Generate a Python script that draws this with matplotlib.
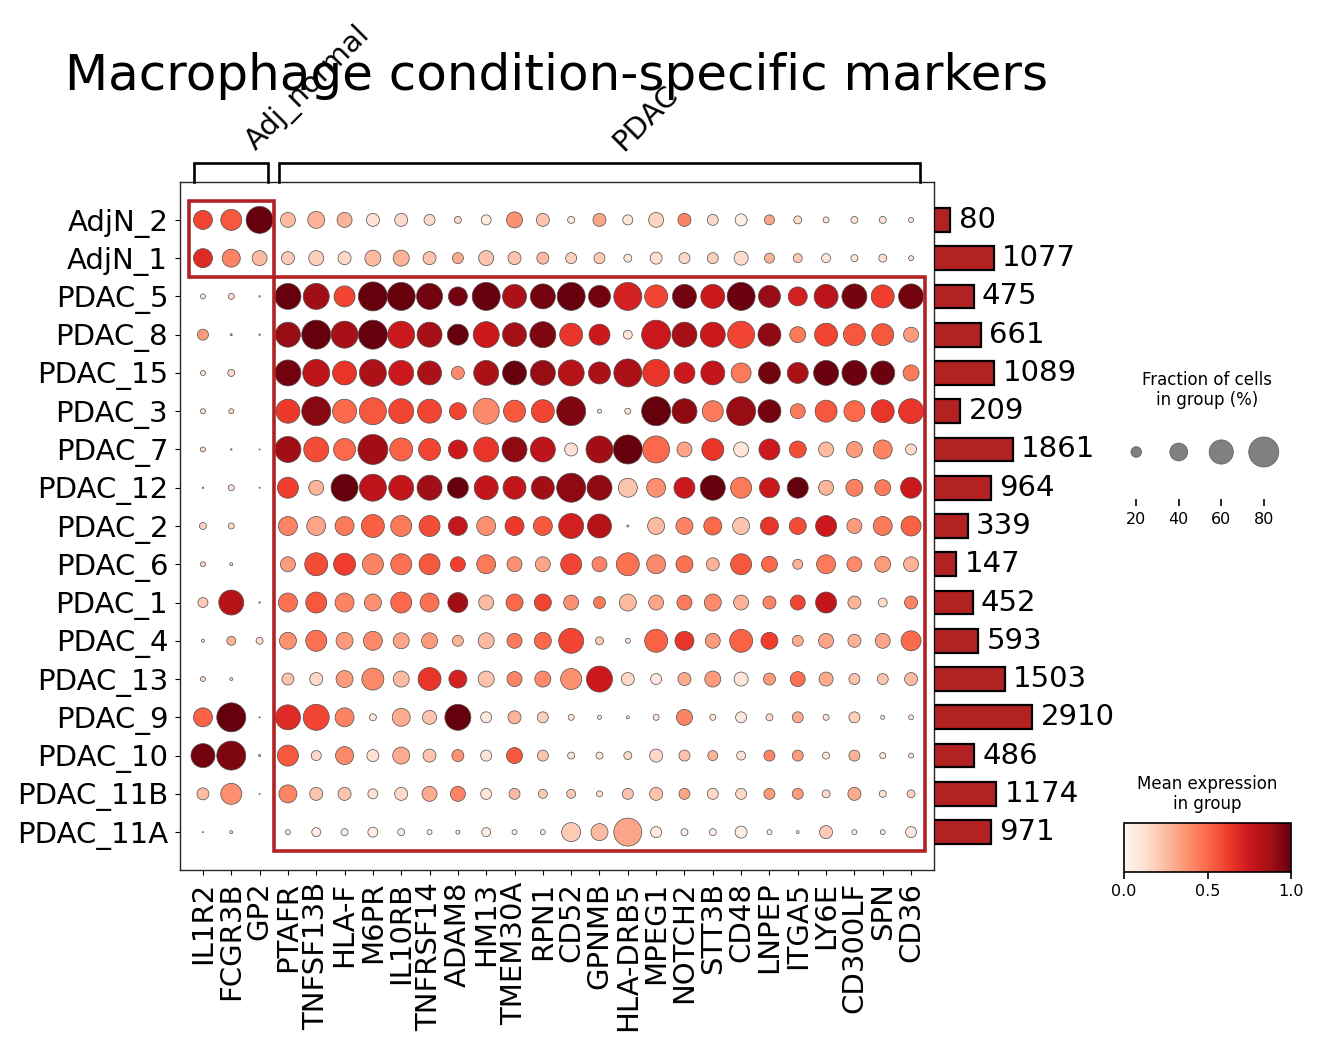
import numpy as np
import matplotlib
matplotlib.use("Agg")
import matplotlib.pyplot as plt
from matplotlib.patches import Rectangle
from matplotlib.cm import ScalarMappable
from matplotlib.colors import Normalize

# ---------------- data ----------------
groups = ["AdjN_2", "AdjN_1", "PDAC_5", "PDAC_8", "PDAC_15", "PDAC_3", "PDAC_7",
          "PDAC_12", "PDAC_2", "PDAC_6", "PDAC_1", "PDAC_4", "PDAC_13", "PDAC_9",
          "PDAC_10", "PDAC_11B", "PDAC_11A"]
genes = ["IL1R2", "FCGR3B", "GP2", "PTAFR", "TNFSF13B", "HLA-F", "M6PR", "IL10RB",
         "TNFRSF14", "ADAM8", "HM13", "TMEM30A", "RPN1", "CD52", "GPNMB", "HLA-DRB5",
         "MPEG1", "NOTCH2", "STT3B", "CD48", "LNPEP", "ITGA5", "LY6E", "CD300LF",
         "SPN", "CD36"]
gene_group_labels = ["Adj_normal", "PDAC"]
gene_group_sizes = [3, 23]
cell_counts = [80, 1077, 475, 661, 1089, 209, 1861, 964, 339, 147, 452, 593,
               1503, 2910, 486, 1174, 971]
# highlighted blocks: (first row, last row, gene group index)
highlight_blocks = [(0, 1, 0), (2, 16, 1)]

# fraction of cells expressing (%), one row per group
frac_pct = [
    [43.5, 49.7, 69.5, 31.7, 37.5, 31.7, 26.3, 26.3, 21, 11.5, 18.5, 34.6, 26.3, 11.5, 26.3, 18.5, 31.7, 26.3, 21, 23.6, 18.5, 13.7, 9.4, 11.5, 11.5, 7.3],  # AdjN_2
    [43.5, 40.5, 31.7, 26.3, 31.7, 26.3, 34.6, 34.6, 26.3, 21, 31.7, 26.3, 23.6, 21, 21, 13.7, 23.6, 21, 21, 29, 18.5, 16, 16, 11.5, 13.7, 7.3],  # AdjN_1
    [7.3, 9.4, 1.5, 66.1, 66.1, 49.7, 76.5, 73, 66.1, 43.5, 73, 59.4, 62.7, 73, 52.9, 73, 56.1, 59.4, 59.4, 73, 52.9, 43.5, 59.4, 62.7, 56.1, 62.7],  # PDAC_5
    [21, 2.2, 1.5, 62.7, 76.5, 69.5, 76.5, 69.5, 62.7, 49.7, 66.1, 59.4, 66.1, 56.1, 49.7, 16, 76.5, 62.7, 62.7, 69.5, 56.1, 34.6, 56.1, 52.9, 52.9, 31.7],  # PDAC_8
    [7.3, 11.5, 0, 66.1, 69.5, 59.4, 69.5, 62.7, 59.4, 26.3, 62.7, 59.4, 62.7, 66.1, 52.9, 73, 69.5, 49.7, 59.4, 46.6, 52.9, 49.7, 62.7, 62.7, 59.4, 34.6],  # PDAC_15
    [7.3, 7.3, 0, 59.4, 76.5, 59.4, 69.5, 62.7, 59.4, 37.5, 66.1, 52.9, 56.1, 76.5, 5.5, 9.4, 76.5, 62.7, 49.7, 76.5, 56.1, 31.7, 52.9, 49.7, 56.1, 62.7],  # PDAC_3
    [7.3, 1.5, 1, 66.1, 62.7, 52.9, 80, 56.1, 52.9, 43.5, 62.7, 62.7, 62.7, 26.3, 69.5, 76.5, 69.5, 31.7, 52.9, 31.7, 49.7, 37.5, 31.7, 34.6, 43.5, 21],  # PDAC_7
    [1.5, 9.4, 1, 49.7, 31.7, 69.5, 69.5, 62.7, 62.7, 49.7, 59.4, 56.1, 56.1, 76.5, 62.7, 43.5, 43.5, 49.7, 62.7, 49.7, 46.6, 49.7, 31.7, 37.5, 34.6, 49.7],  # PDAC_12
    [11.5, 9.4, 0, 43.5, 43.5, 43.5, 56.1, 49.7, 49.7, 43.5, 43.5, 43.5, 43.5, 62.7, 59.4, 2.2, 37.5, 37.5, 40.5, 37.5, 40.5, 37.5, 49.7, 31.7, 43.5, 46.6],  # PDAC_2
    [7.3, 3.7, 0, 31.7, 56.1, 52.9, 49.7, 49.7, 49.7, 31.7, 43.5, 31.7, 31.7, 49.7, 31.7, 56.1, 43.5, 37.5, 26.3, 49.7, 34.6, 18.5, 43.5, 31.7, 34.6, 31.7],  # PDAC_6
    [18.5, 62.7, 1.5, 43.5, 49.7, 43.5, 37.5, 49.7, 43.5, 46.6, 31.7, 37.5, 37.5, 31.7, 23.6, 37.5, 31.7, 31.7, 37.5, 31.7, 26.3, 31.7, 49.7, 26.3, 16, 26.3],  # PDAC_1
    [3.7, 16, 11.5, 37.5, 49.7, 37.5, 43.5, 34.6, 34.6, 21, 34.6, 31.7, 37.5, 62.7, 13.7, 7.3, 56.1, 43.5, 31.7, 56.1, 37.5, 21, 31.7, 26.3, 31.7, 46.6],  # PDAC_4
    [7.3, 3.7, 0, 23.6, 26.3, 37.5, 52.9, 34.6, 56.1, 40.5, 34.6, 31.7, 34.6, 49.7, 66.1, 26.3, 21, 26.3, 34.6, 29, 23.6, 31.7, 29, 21, 21, 26.3],  # PDAC_13
    [43.5, 76.5, 1, 62.7, 66.1, 43.5, 11.5, 40.5, 29, 66.1, 21, 26.3, 21, 9.4, 5.5, 3.7, 9.4, 34.6, 9.4, 21, 11.5, 21, 9.4, 21, 5.5, 7.3],  # PDAC_9
    [59.4, 76.5, 2.2, 49.7, 18.5, 40.5, 23.6, 37.5, 26.3, 23.6, 21, 34.6, 21, 11.5, 11.5, 13.7, 26.3, 21, 18.5, 16, 21, 21, 11.5, 21, 9.4, 7.3],  # PDAC_10
    [23.6, 49.7, 1, 40.5, 26.3, 26.3, 18.5, 26.3, 31.7, 31.7, 21, 21, 16, 16, 9.4, 21, 26.3, 21, 21, 21, 21, 21, 13.7, 26.3, 11.5, 13.7],  # PDAC_11B
    [1, 3.7, 0, 7.3, 16, 11.5, 18.5, 11.5, 7.3, 5.5, 16, 7.3, 7.3, 43.5, 37.5, 73, 21, 11.5, 11.5, 23.6, 7.3, 3.7, 26.3, 7.3, 7.3, 21],  # PDAC_11A
]

# scaled mean expression (0-1), one row per group
mean_expr = [
    [0.6, 0.55, 1.0, 0.25, 0.28, 0.28, 0.12, 0.15, 0.15, 0.15, 0.07, 0.38, 0.22, 0.08, 0.32, 0.1, 0.17, 0.42, 0.15, 0.05, 0.32, 0.15, 0.1, 0.12, 0.12, 0.1],  # AdjN_2
    [0.68, 0.42, 0.25, 0.2, 0.18, 0.15, 0.25, 0.28, 0.22, 0.3, 0.22, 0.22, 0.25, 0.18, 0.2, 0.1, 0.13, 0.15, 0.18, 0.14, 0.28, 0.2, 0.1, 0.1, 0.12, 0.1],  # AdjN_1
    [0.1, 0.15, 0.1, 1.0, 0.88, 0.6, 1.0, 1.0, 0.98, 0.97, 1.0, 0.85, 0.97, 1.0, 0.98, 0.72, 0.6, 0.98, 0.75, 0.99, 0.9, 0.72, 0.8, 0.97, 0.62, 0.98],  # PDAC_5
    [0.35, 0.3, 0.1, 0.9, 1.0, 0.87, 1.0, 0.75, 0.87, 1.0, 0.75, 0.87, 0.95, 0.65, 0.75, 0.1, 0.75, 0.87, 0.75, 0.6, 0.92, 0.45, 0.6, 0.55, 0.55, 0.35],  # PDAC_8
    [0.12, 0.15, 0.0, 0.97, 0.8, 0.65, 0.85, 0.75, 0.85, 0.4, 0.85, 1.0, 0.9, 0.82, 0.85, 0.85, 0.65, 0.75, 0.78, 0.45, 0.98, 0.85, 0.99, 0.99, 0.99, 0.45],  # PDAC_15
    [0.12, 0.15, 0.0, 0.63, 0.93, 0.5, 0.55, 0.6, 0.6, 0.6, 0.4, 0.55, 0.6, 0.95, 0.1, 0.1, 1.0, 0.92, 0.45, 0.9, 0.97, 0.45, 0.55, 0.5, 0.65, 0.65],  # PDAC_3
    [0.15, 0.2, 0.1, 0.88, 0.58, 0.5, 0.88, 0.52, 0.6, 0.75, 0.65, 0.92, 0.8, 0.12, 0.88, 1.0, 0.5, 0.32, 0.65, 0.1, 0.75, 0.58, 0.25, 0.35, 0.42, 0.15],  # PDAC_7
    [0.2, 0.12, 0.1, 0.62, 0.27, 1.0, 0.8, 0.78, 0.88, 1.0, 0.78, 0.78, 0.88, 0.92, 0.92, 0.22, 0.38, 0.75, 1.0, 0.45, 0.75, 1.0, 0.27, 0.43, 0.45, 0.75],  # PDAC_12
    [0.18, 0.15, 0.0, 0.42, 0.32, 0.45, 0.53, 0.45, 0.58, 0.77, 0.38, 0.63, 0.55, 0.72, 0.82, 0.2, 0.25, 0.42, 0.5, 0.22, 0.65, 0.58, 0.75, 0.35, 0.45, 0.52],  # PDAC_2
    [0.15, 0.15, 0.0, 0.35, 0.58, 0.62, 0.42, 0.48, 0.55, 0.62, 0.45, 0.38, 0.32, 0.6, 0.42, 0.48, 0.4, 0.48, 0.28, 0.55, 0.5, 0.28, 0.45, 0.4, 0.35, 0.28],  # PDAC_6
    [0.2, 0.82, 0.2, 0.48, 0.55, 0.42, 0.38, 0.5, 0.48, 0.88, 0.25, 0.5, 0.6, 0.38, 0.45, 0.25, 0.32, 0.45, 0.4, 0.28, 0.42, 0.6, 0.78, 0.28, 0.15, 0.42],  # PDAC_1
    [0.12, 0.28, 0.15, 0.38, 0.48, 0.35, 0.4, 0.32, 0.35, 0.28, 0.25, 0.45, 0.5, 0.6, 0.2, 0.12, 0.52, 0.65, 0.35, 0.52, 0.62, 0.3, 0.32, 0.28, 0.32, 0.5],  # PDAC_4
    [0.15, 0.15, 0.0, 0.22, 0.15, 0.35, 0.4, 0.25, 0.65, 0.72, 0.22, 0.42, 0.4, 0.38, 0.75, 0.15, 0.08, 0.3, 0.35, 0.1, 0.35, 0.48, 0.3, 0.22, 0.22, 0.25],  # PDAC_13
    [0.52, 1.0, 0.1, 0.68, 0.6, 0.42, 0.1, 0.3, 0.22, 1.0, 0.08, 0.28, 0.18, 0.1, 0.1, 0.1, 0.1, 0.42, 0.1, 0.08, 0.15, 0.3, 0.1, 0.18, 0.1, 0.1],  # PDAC_9
    [0.98, 0.95, 0.3, 0.55, 0.15, 0.4, 0.12, 0.3, 0.22, 0.38, 0.1, 0.55, 0.22, 0.1, 0.1, 0.15, 0.15, 0.22, 0.28, 0.12, 0.42, 0.35, 0.1, 0.28, 0.1, 0.1],  # PDAC_10
    [0.25, 0.38, 0.1, 0.42, 0.22, 0.22, 0.12, 0.15, 0.3, 0.42, 0.1, 0.25, 0.2, 0.2, 0.12, 0.22, 0.22, 0.32, 0.15, 0.15, 0.35, 0.35, 0.15, 0.3, 0.12, 0.18],  # PDAC_11B
    [0.3, 0.15, 0.0, 0.1, 0.05, 0.05, 0.05, 0.05, 0.05, 0.05, 0.05, 0.05, 0.05, 0.2, 0.25, 0.32, 0.06, 0.05, 0.05, 0.05, 0.05, 0.05, 0.2, 0.05, 0.05, 0.08],  # PDAC_11A
]

size_legend_pct = [20, 40, 60, 80]
cbar_ticks = [0.0, 0.5, 1.0]

# ---------------- style ----------------
W, H, DPI = 1320, 1050, 100
BOX_COLOR = "#b22222"
CMAP = plt.get_cmap("Reds")
FS = 21
D80_PX = 30.0                          # dot diameter (px) at 80 %
S80 = (D80_PX * 72.0 / DPI) ** 2       # marker area (pt^2) at 80 %


def dot_size(pct):
    p = np.asarray(pct, dtype=float) / 100.0
    return S80 * (p / 0.8) ** 1.5


def fx(px):
    return px / W


def fy(py):
    return 1 - py / H


fig = plt.figure(figsize=(W / DPI, H / DPI), dpi=DPI)

# main dot plot axes
L, R, T, B = 180, 934, 182, 870
ax = fig.add_axes([fx(L), fy(B), fx(R - L), (B - T) / H])
n_rows, n_cols = len(groups), len(genes)
frac = np.array(frac_pct)
expr = np.array(mean_expr)
xx, yy = np.meshgrid(np.arange(n_cols), np.arange(n_rows))
mask = frac.ravel() > 0
ax.scatter(xx.ravel()[mask], yy.ravel()[mask], s=dot_size(frac.ravel()[mask]),
           c=expr.ravel()[mask], cmap=CMAP, vmin=0, vmax=1,
           edgecolors="0.3", linewidths=0.5, zorder=3)
ax.set_xlim(-0.81, n_cols - 1 + 0.81)
ax.set_ylim(n_rows - 1 + 0.99, -0.99)
ax.set_xticks(np.arange(n_cols))
ax.set_xticklabels(genes, rotation=90, fontsize=FS)
ax.set_yticks(np.arange(n_rows))
ax.set_yticklabels(groups, fontsize=FS)
ax.tick_params(axis="both", length=3.5, width=0.8, pad=5)
for sp in ax.spines.values():
    sp.set_linewidth(1.0)
    sp.set_color("0.15")

# highlight rectangles
starts = np.cumsum([0] + gene_group_sizes[:-1])
for r0, r1, g in highlight_blocks:
    c0 = starts[g]
    c1 = c0 + gene_group_sizes[g] - 1
    ax.add_patch(Rectangle((c0 - 0.5, r0 - 0.5), c1 - c0 + 1, r1 - r0 + 1,
                           fill=False, edgecolor=BOX_COLOR, linewidth=2.6, zorder=4))

# gene group brackets
BT = 163
axb = fig.add_axes([fx(L), fy(T), fx(R - L), (T - BT) / H], sharex=ax)
axb.set_ylim(0, 1)
axb.axis("off")
for g, lab in enumerate(gene_group_labels):
    c0 = starts[g]
    c1 = c0 + gene_group_sizes[g] - 1
    x0, x1 = c0 - 0.3, c1 + 0.3
    axb.plot([x0, x0, x1, x1], [0, 1, 1, 0], color="black", lw=1.9,
             clip_on=False, solid_joinstyle="miter")
    axb.text((c0 + c1) / 2 + 0.3, 1.35, lab, rotation=45, ha="left", va="bottom",
             fontsize=FS, transform=axb.transData)

# title
fig.text(fx((L + R) / 2), fy(90), "Macrophage condition-specific markers",
         fontsize=36, ha="center", va="baseline")

# totals bar axes
BR = 1110
axr = fig.add_axes([fx(R), fy(B), fx(BR - R), (B - T) / H], sharey=ax)
axr.set_xscale("function", functions=(np.sqrt, np.square))
axr.barh(np.arange(n_rows), cell_counts, height=0.62, color=BOX_COLOR,
         edgecolor="black", linewidth=1.6, zorder=2)
axr.set_xlim(0, ((BR - R) / 1.82) ** 2)
for i, n in enumerate(cell_counts):
    axr.annotate(str(n), (n, i), xytext=(6, 0), textcoords="offset points",
                 ha="left", va="center", fontsize=FS)
axr.axis("off")

# size legend
SL, SR, ST, SB = 1115, 1285, 420, 499
axs = fig.add_axes([fx(SL), fy(SB), fx(SR - SL), (SB - ST) / H])
axs.scatter(np.arange(len(size_legend_pct)), [(SB - 452) / (SB - ST)] * len(size_legend_pct),
            s=dot_size(size_legend_pct), color="grey", edgecolors="0.35",
            linewidths=0.5, clip_on=False)
axs.set_xlim(-0.5, len(size_legend_pct) - 0.5)
axs.set_ylim(0, 1)
axs.set_xticks(np.arange(len(size_legend_pct)))
axs.set_xticklabels([str(v) for v in size_legend_pct], fontsize=11.5)
axs.set_yticks([])
axs.tick_params(axis="x", length=5, width=1.2, pad=4)
for sp in axs.spines.values():
    sp.set_visible(False)
fig.text(fx(1207), fy(390), "Fraction of cells\nin group (%)", fontsize=12,
         ha="center", va="center", linespacing=1.2)

# colour bar
CL, CR, CT, CB = 1124, 1291, 823, 872
axc = fig.add_axes([fx(CL), fy(CB), fx(CR - CL), (CB - CT) / H])
cb = fig.colorbar(ScalarMappable(norm=Normalize(0, 1), cmap=CMAP), cax=axc,
                  orientation="horizontal", ticks=cbar_ticks)
cb.ax.set_xticklabels([f"{t:.1f}" for t in cbar_ticks], fontsize=11.5)
cb.ax.tick_params(length=5, width=1.2)
cb.outline.set_linewidth(1.2)
fig.text(fx(1207), fy(794), "Mean expression\nin group", fontsize=12,
         ha="center", va="center", linespacing=1.2)

fig.savefig("out.png", dpi=DPI)
